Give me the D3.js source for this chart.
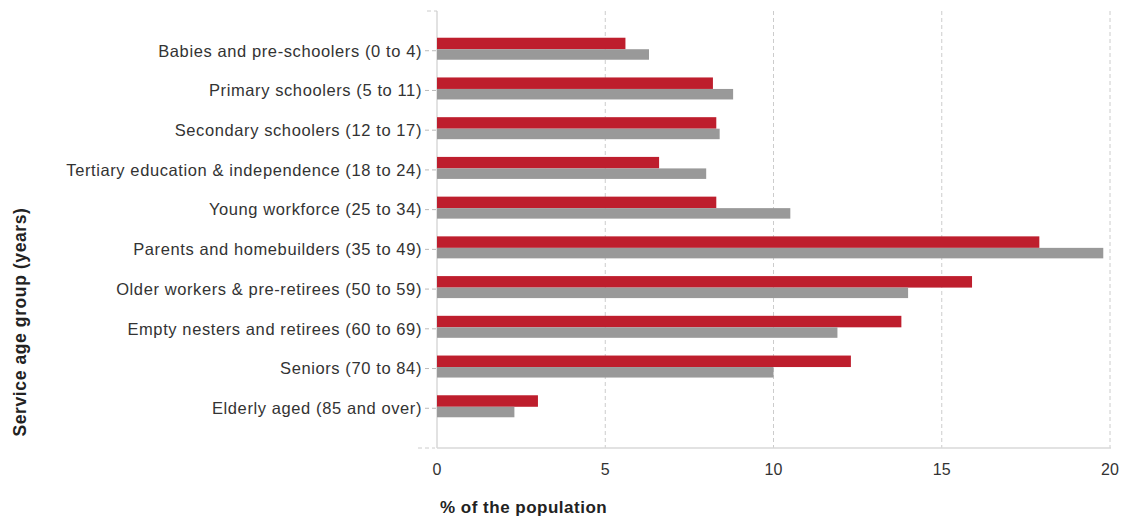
<!DOCTYPE html>
<html>
<head>
<meta charset="utf-8">
<script src="https://cdn.jsdelivr.net/npm/d3@7"></script>
<style>
  body { margin: 0; background: #fff; }
  text { font-family: "Liberation Sans", Arial, sans-serif; }
</style>
</head>
<body>
<div id="chart"></div>
<script>
// dimensions
const width = 1127;
const height = 517;
const margin = { top: 11, right: 16, bottom: 69, left: 437 };

// data
const categories = [
  "Babies and pre-schoolers (0 to 4)",
  "Primary schoolers (5 to 11)",
  "Secondary schoolers (12 to 17)",
  "Tertiary education & independence (18 to 24)",
  "Young workforce (25 to 34)",
  "Parents and homebuilders (35 to 49)",
  "Older workers & pre-retirees (50 to 59)",
  "Empty nesters and retirees (60 to 69)",
  "Seniors (70 to 84)",
  "Elderly aged (85 and over)"
];
const seriesA = [5.6, 8.2, 8.3, 6.6, 8.3, 17.9, 15.9, 13.8, 12.3, 3.0];   // red
const seriesB = [6.3, 8.8, 8.4, 8.0, 10.5, 19.8, 14.0, 11.9, 10.0, 2.3]; // gray
const xTicks = [0, 5, 10, 15, 20];

const innerW = width - margin.left - margin.right;
const innerH = height - margin.top - margin.bottom;

const x = d3.scaleLinear().domain([0, 20]).range([0, innerW - 1]);
const y = d3.scalePoint().domain(categories).range([0, innerH]).padding(1);

const svg = d3.select("#chart").append("svg")
  .attr("width", width)
  .attr("height", height);

const g = svg.append("g").attr("transform", `translate(${margin.left},${margin.top})`);

// gridlines verticales
g.selectAll("line.grid")
  .data(xTicks.filter(d => d > 0))
  .join("line")
  .attr("class", "grid")
  .attr("x1", d => x(d)).attr("x2", d => x(d))
  .attr("y1", 0).attr("y2", innerH)
  .attr("stroke", "#cccccc")
  .attr("stroke-dasharray", "4,3");

// axe y (ligne + petits ticks pointillés)
g.append("line")
  .attr("x1", 0).attr("x2", 0)
  .attr("y1", 0).attr("y2", innerH)
  .attr("stroke", "#d9d9d9").attr("stroke-width", 1.5);
g.append("line")
  .attr("x1", -10).attr("x2", 0).attr("y1", 0).attr("y2", 0)
  .attr("stroke", "#cccccc").attr("stroke-dasharray", "4,3");

g.selectAll("line.ytick")
  .data(categories)
  .join("line")
  .attr("class", "ytick")
  .attr("x1", -12).attr("x2", 0)
  .attr("y1", d => y(d)).attr("y2", d => y(d))
  .attr("stroke", "#bbbbbb")
  .attr("stroke-dasharray", "4,3");

g.selectAll("text.ylab")
  .data(categories)
  .join("text")
  .attr("class", "ylab")
  .attr("x", -15)
  .attr("y", d => y(d))
  .attr("dy", "0.35em")
  .attr("text-anchor", "end")
  .attr("font-size", "16.5px")
  .attr("letter-spacing", "0.6px")
  .attr("fill", "#333")
  .text(d => d);

// barres
const barH = 11.5;
g.selectAll("rect.a")
  .data(categories)
  .join("rect")
  .attr("class", "a")
  .attr("x", 0)
  .attr("y", d => y(d) - 13)
  .attr("width", (d, i) => x(seriesA[i]))
  .attr("height", barH)
  .attr("fill", "#be1e2d");

g.selectAll("rect.b")
  .data(categories)
  .join("rect")
  .attr("class", "b")
  .attr("x", 0)
  .attr("y", d => y(d) - 13 + barH)
  .attr("width", (d, i) => x(seriesB[i]))
  .attr("height", barH - 1)
  .attr("fill", "#999999");

// axe x
g.append("line")
  .attr("x1", -19).attr("x2", -2).attr("y1", innerH).attr("y2", innerH)
  .attr("stroke", "#cccccc").attr("stroke-dasharray", "4,3");
g.append("line")
  .attr("x1", 0).attr("x2", innerW).attr("y1", innerH).attr("y2", innerH)
  .attr("stroke", "#d9d9d9").attr("stroke-width", 1.5);

g.selectAll("text.xlab")
  .data(xTicks)
  .join("text")
  .attr("class", "xlab")
  .attr("x", d => x(d))
  .attr("y", innerH + 27)
  .attr("text-anchor", "middle")
  .attr("font-size", "16px")
  .attr("fill", "#333")
  .text(d => d);

// titres des axes
svg.append("text")
  .attr("x", 440)
  .attr("y", 513)
  .attr("font-size", "17px")
  .attr("letter-spacing", "0.5px")
  .attr("font-weight", "bold")
  .attr("fill", "#222")
  .text("% of the population");

svg.append("text")
  .attr("transform", "translate(26,322) rotate(-90)")
  .attr("text-anchor", "middle")
  .attr("font-size", "17.5px")
  .attr("letter-spacing", "0.6px")
  .attr("font-weight", "bold")
  .attr("fill", "#222")
  .text("Service age group (years)");
</script>
</body>
</html>
